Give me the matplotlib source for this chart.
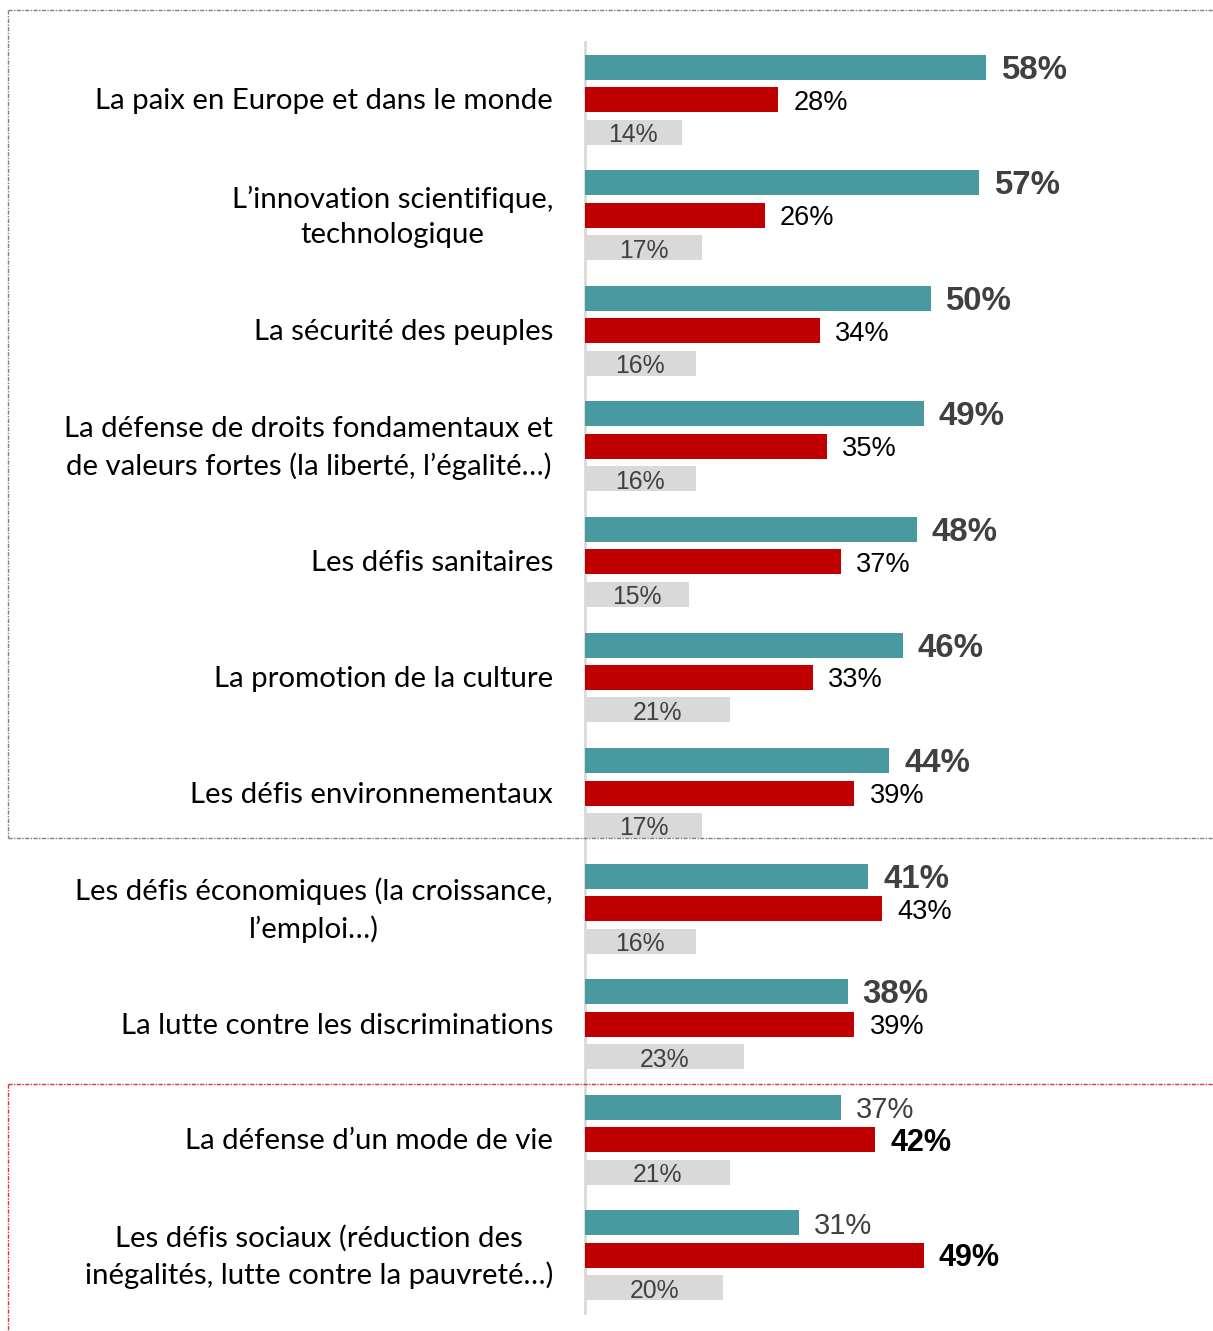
import matplotlib
matplotlib.use("Agg")
import matplotlib.pyplot as plt
from matplotlib.lines import Line2D

categories = [
    "La paix en Europe et dans le monde",
    "L\u2019innovation scientifique,\ntechnologique",
    "La s\u00e9curit\u00e9 des peuples",
    "La d\u00e9fense de droits fondamentaux et\nde valeurs fortes (la libert\u00e9, l\u2019\u00e9galit\u00e9\u2026)",
    "Les d\u00e9fis sanitaires",
    "La promotion de la culture",
    "Les d\u00e9fis environnementaux",
    "Les d\u00e9fis \u00e9conomiques (la croissance,\nl\u2019emploi\u2026)",
    "La lutte contre les discriminations",
    "La d\u00e9fense d\u2019un mode de vie",
    "Les d\u00e9fis sociaux (r\u00e9duction des\nin\u00e9galit\u00e9s, lutte contre la pauvret\u00e9\u2026)",
]
teal_vals = [58, 57, 50, 49, 48, 46, 44, 41, 38, 37, 31]
red_vals = [28, 26, 34, 35, 37, 33, 39, 43, 39, 42, 49]
grey_vals = [14, 17, 16, 16, 15, 21, 17, 16, 23, 21, 20]

# groups where the red bar is the one highlighted
red_first = {9, 10}

TEAL = "#4899A0"
RED = "#C00000"
GREY = "#D9D9D9"
DARK = "#404040"

W, H = 1213, 1331
LEFT = 585
fig = plt.figure(figsize=(W / 100, H / 100), dpi=100)
ax = fig.add_axes([LEFT / W, (H - 1313) / H, (W - LEFT) / W, (1313 - 42) / H])

px_per_pct = 6.91
ax.set_xlim(0, (W - LEFT) / px_per_pct)
ax.set_ylim(len(categories) - 0.5, -0.5)

off = 32.5 / 115.7
h = 25 / 115.7
dy = 3 / 115.7  # nudge labels down a little
ys = list(range(len(categories)))
ax.barh([y - off for y in ys], teal_vals, height=h, color=TEAL)
ax.barh(ys, red_vals, height=h, color=RED)
ax.barh([y + off for y in ys], grey_vals, height=h, color=GREY)

gap = 15 / px_per_pct
for i, y in enumerate(ys):
    if i in red_first:
        ax.text(teal_vals[i] + gap, y - off + dy, f"{teal_vals[i]}%", va="center",
                fontsize=21, color=DARK, family="Liberation Sans")
        ax.text(red_vals[i] + gap, y + dy, f"{red_vals[i]}%", va="center",
                fontsize=22, fontweight="bold", color="black", family="Liberation Sans")
    else:
        ax.text(teal_vals[i] + gap, y - off + dy, f"{teal_vals[i]}%", va="center",
                fontsize=23.8, fontweight="bold", color=DARK, family="Liberation Sans")
        ax.text(red_vals[i] + gap, y + dy, f"{red_vals[i]}%", va="center",
                fontsize=19.6, color="black", family="Liberation Sans")
    ax.text(grey_vals[i] / 2, y + off + dy, f"{grey_vals[i]}%", va="center", ha="center",
            fontsize=17.8, color=DARK, family="Liberation Sans")
    ax.text(-32 / px_per_pct, y + dy / 2, categories[i], ha="right", va="center",
            multialignment="center", fontsize=21.2, color="black", family="Lato",
            linespacing=1.45)

for s in ["top", "right", "bottom"]:
    ax.spines[s].set_visible(False)
ax.spines["left"].set_color(GREY)
ax.spines["left"].set_linewidth(2)
ax.spines["left"].set_zorder(0)
ax.set_xticks([])
ax.set_yticks([])


def fx(x):
    return x / W


def fy(y):
    return 1 - y / H


dash = (0, (3, 1, 1, 1))
grey_box = [((8, 10), (W, 10)), ((8, 10), (8, 838)), ((8, 838), (W, 838))]
for (x0, y0), (x1, y1) in grey_box:
    fig.lines.append(Line2D([fx(x0), fx(x1)], [fy(y0), fy(y1)], transform=fig.transFigure,
                            color="#808080", lw=1, linestyle=dash))
red_box = [((8, 1084), (W, 1084)), ((8, 1084), (8, H))]
for (x0, y0), (x1, y1) in red_box:
    fig.lines.append(Line2D([fx(x0), fx(x1)], [fy(y0), fy(y1)], transform=fig.transFigure,
                            color="#E03030", lw=1, linestyle=dash))

fig.savefig("out.png", dpi=100)
